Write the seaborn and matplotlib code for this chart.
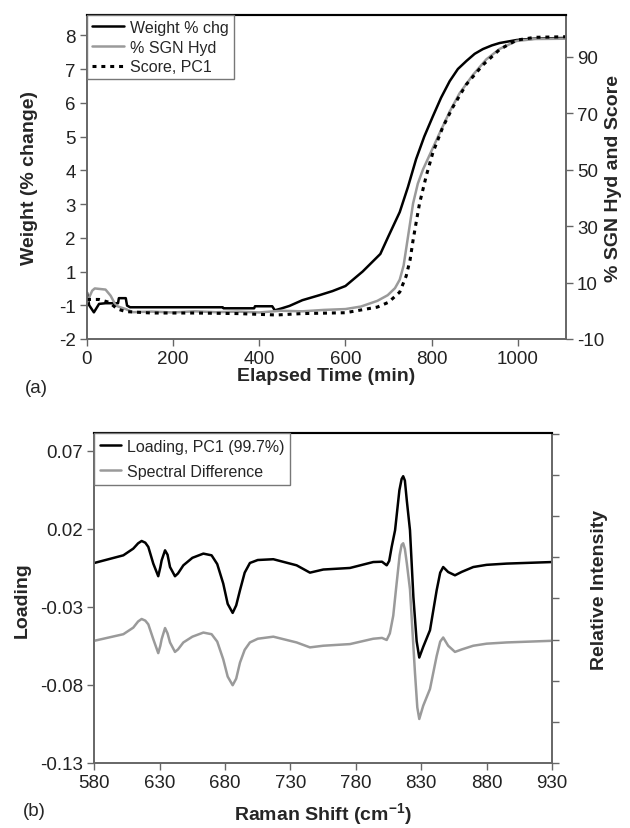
import matplotlib
matplotlib.use("Agg")
import matplotlib.pyplot as plt
import seaborn as sns
from matplotlib.lines import Line2D

sns.set_theme(style="ticks")
plt.rcParams['font.family'] = ['Liberation Sans', 'DejaVu Sans']

# ---------------- Panel (a) data ----------------
time_w = [0, 5, 16, 28, 43, 72, 74, 90, 93, 100, 200, 315, 317, 388, 390, 430, 436, 450,
          470, 500, 540, 570, 600, 640, 681, 700, 726, 745, 764, 783, 803, 822, 842, 861,
          881, 900, 919, 940, 958, 980, 998, 1040, 1110]
weight = [0.38, 0.0, -0.21, 0.04, 0.06, 0.06, 0.21, 0.21, -0.01, -0.06, -0.06, -0.06, -0.09,
          -0.09, -0.03, -0.03, -0.15, -0.1, -0.02, 0.15, 0.3, 0.42, 0.57, 1.0, 1.52, 2.05,
          2.76, 3.5, 4.33, 5.0, 5.6, 6.15, 6.64, 7.0, 7.24, 7.45, 7.59, 7.7, 7.77, 7.82,
          7.86, 7.9, 7.92]

time_h = [0, 12, 18, 43, 55, 67, 78, 90, 106, 150, 200, 250, 300, 350, 400, 450, 500, 550,
          600, 636, 674, 698, 715, 726, 735, 741, 749, 757, 768, 780, 795, 819, 842, 865,
          896, 927, 958, 997, 1040, 1110]
sgn_hyd = [3.0, 7.1, 7.9, 7.5, 5.3, 1.8, 1.2, 0.6, -0.5, -0.3, -0.6, -0.2, -0.5, -0.3, -0.6,
           0.0, -0.2, 0.3, 0.6, 1.5, 3.5, 5.5, 8, 11, 16, 22, 30, 38, 45, 50, 55, 63, 70.5,
           77, 83.5, 89, 92.7, 95.5, 96.2, 96.3]

time_s = [0, 28, 51, 71, 90, 150, 250, 350, 440, 500, 600, 674, 700, 726, 741, 750, 757,
          765, 772, 788, 803, 826, 849, 880, 919, 958, 997, 1040, 1110]
score = [4, 4, 3, 0.6, -0.3, -0.8, -0.8, -1, -1.5, -1, -0.7, 1.3, 3, 6.6, 12.3, 18, 25, 32,
         38, 48, 56, 65, 72, 80, 87, 92.5, 95.8, 96.8, 97]

a_left_ticks = [-1, 0, 1, 2, 3, 4, 5, 6, 7, 8]
a_left_labels = ['-2', '-1', '1', '2', '3', '4', '5', '6', '7', '8']
a_right_ticks = [-10, 10, 30, 50, 70, 90]
a_x_ticks = [0, 200, 400, 600, 800, 1000]

# ---------------- Panel (b) data ----------------
shift_l = [580, 602.2, 609.8, 613.5, 616.2, 619, 621.3, 625.1, 628.9, 630.5, 631.5, 634.1,
           636, 637.9, 641.7, 644, 648.1, 655, 663.4, 669.7, 674, 678.6, 682, 685.8, 688.5,
           691.4, 695, 699, 705, 716.9, 734.7, 744.9, 755.1, 775.5, 793.3, 800, 803.6,
           805.5, 807.4, 810, 813.3, 815, 816.2, 817.5, 819, 821.4, 824, 826.5, 828.5,
           831.5, 836.7, 841.8, 844.5, 846.8, 850.6, 855.8, 861, 869.8, 880, 895.3, 930]
loading = [-0.0018, 0.0031, 0.0074, 0.0108, 0.0123, 0.0112, 0.0085, -0.0022, -0.0103,
           -0.0045, -0.0001, 0.0063, 0.0035, -0.0044, -0.0103, -0.0085, -0.0033, 0.0015,
           0.0042, 0.0031, -0.0025, -0.015, -0.028, -0.0338, -0.029, -0.0193, -0.008,
           -0.0018, 0.0001, 0.0006, -0.0033, -0.008, -0.006, -0.005, -0.0012, -0.001,
           -0.0033, -0.0005, 0.0085, 0.0192, 0.0448, 0.052, 0.0538, 0.051, 0.038, 0.0192,
           -0.0236, -0.052, -0.0624, -0.0556, -0.0449, -0.0193, -0.008, -0.0044, -0.0076,
           -0.0097, -0.0075, -0.0044, -0.003, -0.0022, -0.0012]

shift_d = [580, 602.2, 609.8, 613.5, 616.2, 619, 621.3, 625.1, 628.9, 630.5, 631.5, 634.1,
           636, 637.9, 641.7, 644, 648.1, 655, 663.4, 669.7, 674, 678.6, 682, 685.8, 688.5,
           691.4, 695, 699, 705, 716.9, 734.7, 744.9, 755.1, 775.5, 793.3, 800, 803.6,
           806, 808.6, 810.7, 813.5, 815, 816.2, 817.5, 819, 821.4, 825.2, 827, 828.5,
           831.5, 836.7, 841.8, 844.5, 846.8, 850.6, 855.8, 861, 869.8, 880, 895.3, 930]
spec_diff = [2.97, 3.13, 3.29, 3.44, 3.50, 3.46, 3.37, 3.01, 2.67, 2.85, 3.01, 3.28, 3.15,
             2.93, 2.70, 2.76, 2.93, 3.07, 3.17, 3.13, 2.95, 2.52, 2.10, 1.89, 2.05, 2.44,
             2.75, 2.93, 3.02, 3.07, 2.93, 2.81, 2.85, 2.89, 3.02, 3.04, 2.99, 3.15, 3.58,
             4.22, 5.05, 5.30, 5.34, 5.2, 4.85, 4.22, 2.20, 1.35, 1.07, 1.39, 1.80, 2.60,
             2.95, 3.05, 2.85, 2.70, 2.76, 2.85, 2.90, 2.93, 2.97]

b_left_ticks = [-0.13, -0.08, -0.03, 0.02, 0.07]
b_left_labels = ['-0.13', '-0.08', '-0.03', '0.02', '0.07']
b_right_ticks = [0, 1, 2, 3, 4, 5, 6, 7, 8]
b_x_ticks = [580, 630, 680, 730, 780, 830, 880, 930]

# ---------------- Figure ----------------
W, H = 630, 829
fig = plt.figure(figsize=(W / 100, H / 100), dpi=100)
fig.patch.set_facecolor('white')

def rect(l, r, t, b):
    return [l / W, (H - b) / H, (r - l) / W, (b - t) / H]

GRAY = '#9a9a9a'
SPINE = '#666666'
TICKFS = 13.5
LABFS = 14

def style_axes(ax, axr):
    for a in (ax, axr):
        for s in ['left', 'right', 'bottom']:
            a.spines[s].set_color(SPINE)
            a.spines[s].set_linewidth(1.2)
        a.spines['top'].set_color('black')
        a.spines['top'].set_linewidth(1.5)
        a.tick_params(direction='out', length=5, width=1, color=SPINE,
                      labelsize=TICKFS, labelcolor='#222222', pad=3)
        a.set_facecolor('white')
        a.grid(False)

# ---- Panel (a)
ax1 = fig.add_axes(rect(87, 566, 16, 340))
ax1r = ax1.twinx()
sns.lineplot(x=time_w, y=weight, ax=ax1, color='black', lw=1.8, estimator=None, sort=False)
sns.lineplot(x=time_h, y=sgn_hyd, ax=ax1r, color=GRAY, lw=1.8, estimator=None, sort=False)
sns.lineplot(x=time_s, y=score, ax=ax1r, color='black', lw=2.2, estimator=None, sort=False,
             linestyle=(0, (1.3, 1.6)))
ax1.set_xlim(0, 1112)
ax1.set_ylim(-1, 8.6)
ax1r.set_ylim(-10, 104.7)
ax1.set_xticks(a_x_ticks)
ax1.set_xticklabels([str(t) for t in a_x_ticks])
ax1.set_yticks(a_left_ticks)
ax1.set_yticklabels(a_left_labels)
ax1r.set_yticks(a_right_ticks)
ax1r.set_yticklabels([str(t) for t in a_right_ticks])
style_axes(ax1, ax1r)
ax1.set_xlabel('')
ax1.set_ylabel('')
ax1r.set_ylabel('')

handles_a = [Line2D([], [], color='black', lw=1.8),
             Line2D([], [], color=GRAY, lw=1.8),
             Line2D([], [], color='black', lw=2.2, linestyle=(0, (1.3, 1.6)))]
leg_a = ax1r.legend(handles_a, ['Weight % chg', '% SGN Hyd', 'Score, PC1'],
                    loc='upper left', bbox_to_anchor=(0, 1), borderaxespad=0,
                    fontsize=11.5, frameon=True, fancybox=False, framealpha=1,
                    edgecolor='#777777', handlelength=2.0, handletextpad=0.4,
                    labelspacing=0.3, borderpad=0.3)
leg_a.get_frame().set_linewidth(1.0)

fig.text(30 / W, 1 - 178 / H, 'Weight (% change)', rotation=90, ha='center', va='center',
         fontsize=LABFS, fontweight='bold')
fig.text(614 / W, 1 - 178 / H, '% SGN Hyd and Score', rotation=90, ha='center', va='center',
         fontsize=LABFS, fontweight='bold')
fig.text(326 / W, 1 - 377 / H, 'Elapsed Time (min)', ha='center', va='center',
         fontsize=LABFS, fontweight='bold')
fig.text(36 / W, 1 - 389 / H, '(a)', ha='center', va='center', fontsize=13.5)

# ---- Panel (b)
ax2 = fig.add_axes(rect(94.3, 552, 434, 764))
ax2r = ax2.twinx()
sns.lineplot(x=shift_l, y=loading, ax=ax2, color='black', lw=1.8, estimator=None, sort=False)
sns.lineplot(x=shift_d, y=spec_diff, ax=ax2r, color=GRAY, lw=1.8, estimator=None, sort=False)
ax2.set_xlim(580, 930)
ax2.set_ylim(-0.13, 0.0815)
ax2r.set_ylim(0, 8.02)
ax2.set_xticks(b_x_ticks)
ax2.set_xticklabels([str(t) for t in b_x_ticks])
ax2.set_yticks(b_left_ticks)
ax2.set_yticklabels(b_left_labels)
ax2r.set_yticks(b_right_ticks)
ax2r.set_yticklabels([])
style_axes(ax2, ax2r)
ax2.set_xlabel('')
ax2.set_ylabel('')
ax2r.set_ylabel('')

handles_b = [Line2D([], [], color='black', lw=1.8), Line2D([], [], color=GRAY, lw=1.8)]
leg_b = ax2r.legend(handles_b, ['Loading, PC1 (99.7%)', 'Spectral Difference'],
                    loc='upper left', bbox_to_anchor=(0, 1), borderaxespad=0,
                    fontsize=11.5, frameon=True, fancybox=False, framealpha=1,
                    edgecolor='#777777', handlelength=1.3, handletextpad=0.4,
                    labelspacing=0.65, borderpad=0.35)
leg_b.get_frame().set_linewidth(1.0)

fig.text(22 / W, 1 - 600 / H, 'Loading', rotation=90, ha='center', va='center',
         fontsize=LABFS, fontweight='bold')
fig.text(600 / W, 1 - 590 / H, 'Relative Intensity', rotation=90, ha='center', va='center',
         fontsize=LABFS, fontweight='bold')
fig.text(323 / W, 1 - 815 / H, 'Raman Shift (cm$^{\\mathregular{-1}}$)', ha='center',
         va='center', fontsize=LABFS, fontweight='bold')
fig.text(34 / W, 1 - 812 / H, '(b)', ha='center', va='center', fontsize=13.5)

fig.savefig('out.png', dpi=100, facecolor='white')
